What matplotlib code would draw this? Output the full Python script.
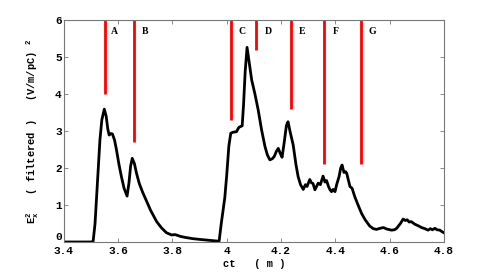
import numpy as np
import matplotlib
matplotlib.use("Agg")
import matplotlib.pyplot as plt

# --- data ---
ct = [3.40, 3.50, 3.508, 3.515, 3.52, 3.527, 3.533, 3.54, 3.549, 3.556, 3.562,
      3.567, 3.573, 3.579, 3.587, 3.594, 3.603, 3.612, 3.622, 3.633, 3.64, 3.646,
      3.652, 3.66, 3.668, 3.678, 3.69, 3.705, 3.72, 3.742, 3.76, 3.778, 3.797,
      3.81, 3.83, 3.85, 3.875, 3.90, 3.93, 3.963, 3.972, 3.98, 3.993, 4.0,
      4.008, 4.015, 4.025, 4.036, 4.045, 4.057, 4.062, 4.068, 4.075, 4.082, 4.092,
      4.104, 4.116, 4.128, 4.141, 4.15, 4.159, 4.168, 4.175, 4.183, 4.19, 4.197,
      4.204, 4.212, 4.22, 4.226, 4.233, 4.245, 4.255, 4.263, 4.272, 4.282, 4.29,
      4.296, 4.306, 4.312, 4.318, 4.325, 4.331, 4.337, 4.345, 4.355, 4.362, 4.368,
      4.375, 4.38, 4.386, 4.392, 4.399, 4.405, 4.414, 4.42, 4.425, 4.432, 4.438,
      4.442, 4.448, 4.454, 4.462, 4.472, 4.485, 4.497, 4.51, 4.527, 4.54, 4.552,
      4.565, 4.577, 4.59, 4.607, 4.618, 4.626, 4.64, 4.65, 4.658, 4.665, 4.672,
      4.68, 4.693, 4.705, 4.718, 4.73, 4.742, 4.75, 4.758, 4.767, 4.775, 4.785,
      4.793, 4.80]
ex2 = [0.0, 0.0, 0.02, 0.5, 1.13, 2.0, 2.76, 3.3, 3.59, 3.4, 3.05,
       2.89, 2.93, 2.92, 2.75, 2.49, 2.1, 1.77, 1.45, 1.24, 1.6, 2.05,
       2.26, 2.12, 1.85, 1.58, 1.35, 1.1, 0.85, 0.55, 0.38, 0.25, 0.19,
       0.2, 0.15, 0.12, 0.09, 0.07, 0.05, 0.03, 0.02, 0.5, 1.2, 1.8,
       2.6, 2.94, 2.97, 2.98, 3.1, 3.14, 3.7, 4.6, 5.26, 4.9, 4.38,
       4.0, 3.57, 3.05, 2.58, 2.35, 2.22, 2.25, 2.31, 2.45, 2.53, 2.4,
       2.29, 2.7, 3.15, 3.25, 3.0, 2.62, 2.1, 1.77, 1.55, 1.42, 1.55,
       1.5, 1.69, 1.6, 1.58, 1.41, 1.5, 1.59, 1.55, 1.78, 1.62, 1.66,
       1.5, 1.42, 1.36, 1.42, 1.36, 1.55, 1.77, 2.0, 2.08, 1.88, 1.9,
       1.86, 1.68, 1.5, 1.45, 1.22, 0.98, 0.77, 0.6, 0.43, 0.36, 0.34,
       0.37, 0.39, 0.35, 0.32, 0.33, 0.37, 0.5, 0.62, 0.58, 0.6, 0.54,
       0.55, 0.48, 0.44, 0.39, 0.36, 0.32, 0.36, 0.33, 0.37, 0.33, 0.32,
       0.28, 0.25]

marker_names = ['A', 'B', 'C', 'D', 'E', 'F', 'G']
marker_ct = [3.55, 3.66, 4.015, 4.109, 4.236, 4.358, 4.494]
marker_low = [4.0, 2.7, 3.3, 5.19, 3.6, 2.1, 2.1]
label_ct = [3.588, 3.698, 4.056, 4.152, 4.277, 4.402, 4.538]
label_y = 5.7

xticks = [3.4, 3.6, 3.8, 4.0, 4.2, 4.4, 4.6, 4.8]
xticklabels = ['3.4', '3.6', '3.8', '4', '4.2', '4.4', '4.6', '4.8']
yticks = [0, 1, 2, 3, 4, 5, 6]

# --- plot ---
mono = 'Liberation Mono'
fig = plt.figure(figsize=(4.91, 2.73), dpi=100)
ax = fig.add_axes([0.130, 0.1136, 0.774, 0.8131])

ax.plot(ct, ex2, color='black', lw=2.0, solid_joinstyle='round')
for x0, y0 in zip(marker_ct, marker_low):
    ax.plot([x0, x0], [y0, 6], color='red', lw=2.0, solid_capstyle='butt')
for name, x0 in zip(marker_names, label_ct):
    ax.text(x0, label_y, name, ha='center', va='center', fontsize=7,
            fontweight='bold', family='Liberation Serif')

ax.set_xlim(3.4, 4.8)
ax.set_ylim(0, 6)
ax.set_xticks(xticks)
ax.set_xticklabels(xticklabels)
ax.set_yticks(yticks)
ax.tick_params(direction='in', top=True, right=True, length=3, width=0.6,
               color='#777777', pad=1.5, labelsize=8)
ax.tick_params(axis='x', pad=3)
for lab in ax.get_xticklabels() + ax.get_yticklabels():
    lab.set_family(mono)
    lab.set_fontweight('bold')
# the zero label sits just above the axis line, clear of "3.4"
ax.get_yticklabels()[0].set_verticalalignment('bottom')
for s in ax.spines.values():
    s.set_color('#777777')
    s.set_linewidth(0.8)

ax.set_xlabel('ct   ( m )', family=mono, fontweight='bold', fontsize=7.5, labelpad=2)
ax.set_ylabel(r'E$_\mathregular{x}^\mathregular{2}$   ( filtered )   (V/m/pC) $^\mathregular{2}$',
              family=mono, fontweight='bold', fontsize=7.5, labelpad=10)

fig.savefig('out.png', dpi=100)
